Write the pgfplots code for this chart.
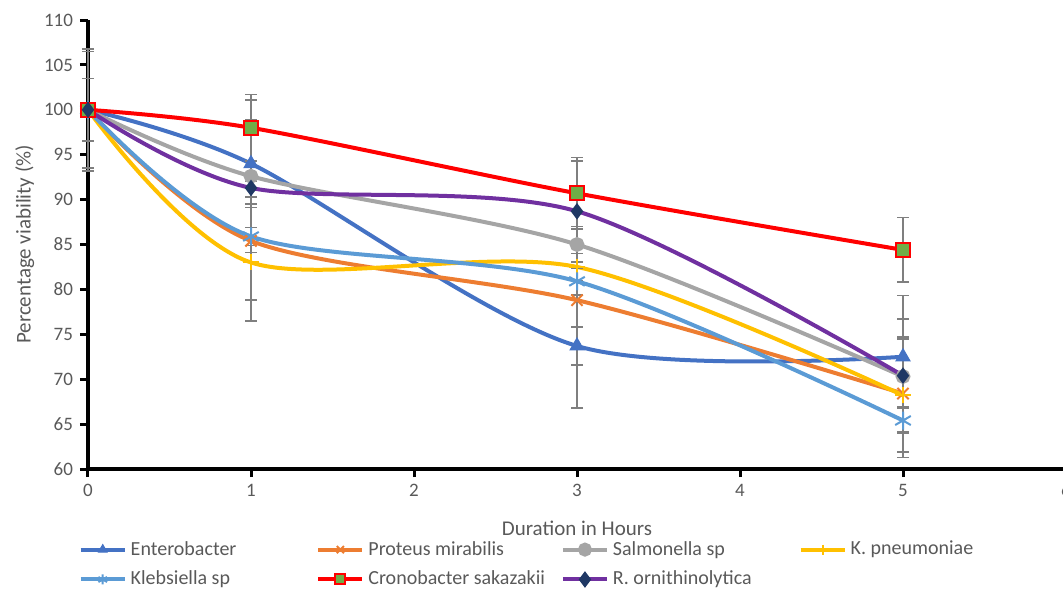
\documentclass[border=0pt]{standalone}
\usepackage{fontspec}
\setmainfont{Carlito}
\usepackage{pgfplots}
\pgfplotsset{compat=1.18}
\definecolor{cEnt}{HTML}{4472C4}
\definecolor{cPro}{HTML}{ED7D31}
\definecolor{cSal}{HTML}{A5A5A5}
\definecolor{cKpn}{HTML}{FFC000}
\definecolor{cKle}{HTML}{5B9BD5}
\definecolor{cCro}{HTML}{FF0000}
\definecolor{cCroM}{HTML}{70AD47}
\definecolor{cRor}{HTML}{7030A0}
\definecolor{cRorM}{HTML}{1F3864}
\definecolor{labgray}{HTML}{595959}
\definecolor{errgray}{HTML}{7F7F7F}
\begin{document}
\begin{tikzpicture}
\begin{axis}[
  scale only axis, width=489pt, height=224.5pt,
  xmin=0, xmax=6, ymin=60, ymax=110,
  axis lines=left,
  axis line style={line width=2pt, -},
  xtick={0,1,2,3,4,5,6}, ytick={60,65,...,110},
  tick style={black, line width=1.5pt},
  tick align=outside, major tick length=4pt,
  ticklabel style={font=\fontsize{9.5}{11}\selectfont, text=labgray},
  /pgf/number format/assume math mode=true,
  xlabel={Duration in Hours},
  ylabel={Percentage viability (\%)},
  label style={font=\fontsize{10.5}{12}\selectfont, text=labgray},
  xlabel style={yshift=-5pt},
  ylabel style={yshift=-2pt},
  clip=false,
  legend columns=4,
  legend cell align=left,
  legend style={draw=none, fill=none, at={(-0.016,-0.142)}, anchor=north west,
    font=\fontsize{10}{11.5}\selectfont, text=labgray,
    row sep=2.5pt,
    /tikz/column 2/.style={column sep=38pt},
    /tikz/column 4/.style={column sep=6pt},
    /tikz/column 6/.style={column sep=21.5pt}},
  legend image code/.code={\draw[mark repeat=2,mark phase=2,sharp plot,mark size=2.5pt] plot coordinates {(0pt,0pt)(11pt,0pt)(22pt,0pt)};},
  every axis plot/.append style={line width=2pt},
  error bars/y dir=both, error bars/y explicit,
  error bars/error bar style={line width=0.8pt, errgray, solid, sharp plot},
  error bars/error mark options={rotate=90, mark size=3pt, line width=0.8pt, errgray},
]
\addplot[cEnt, smooth, mark=triangle*, mark size=4pt, mark options={solid, fill=cEnt, line width=0.5pt}]
  coordinates {(0,100) +- (0,0) (1,94.0) +- (0,4.9) (3,73.7) +- (0,2.1) (5,72.5) +- (0,2.2)};
\addplot[cPro, smooth, mark=x, mark size=4pt, mark options={solid, line width=1pt}]
  coordinates {(0,100) +- (0,3.5) (1,85.4) +- (0,6.6) (3,78.8) +- (0,12) (5,68.4) +- (0,1.5)};
\addplot[cSal, smooth, mark=*, mark size=2.7pt, mark options={solid, fill=cSal}]
  coordinates {(0,100) +- (0,6.8) (1,92.6) +- (0,8.5) (3,85.0) +- (0,2.0) (5,70.3) +- (0,9.0)};
\addplot[cKpn, smooth, mark=+, mark size=4pt, mark options={solid, line width=1pt}]
  coordinates {(0,100) +- (0,0) (1,83.0) +- (0,6.5) (3,82.5) +- (0,1.5) (5,68.2) +- (0,6.3)};
\addplot[cKle, smooth, mark=asterisk, mark size=4.5pt, mark options={solid, line width=1pt}]
  coordinates {(0,100) +- (0,0) (1,85.9) +- (0,1.0) (3,80.9) +- (0,1.5) (5,65.4) +- (0,1.4)};
\addplot[cCro, smooth, mark=square*, mark size=3.5pt, mark options={solid, fill=cCroM, draw=cCro, line width=1pt}]
  coordinates {(0,100) +- (0,0) (1,98.0) +- (0,3.7) (3,90.7) +- (0,4.0) (5,84.4) +- (0,3.6)};
\addplot[cRor, smooth, mark=diamond*, mark size=2.5pt, mark options={solid, fill=cRorM, draw=cRorM}]
  coordinates {(0,100) +- (0,6.5) (1,91.3) +- (0,1.0) (3,88.7) +- (0,5.6) (5,70.4) +- (0,6.3)};
\legend{Enterobacter, Proteus mirabilis, Salmonella sp, K. pneumoniae, Klebsiella sp, Cronobacter sakazakii, R. ornithinolytica}
\end{axis}
\pgfresetboundingbox
\path[use as bounding box] (-44pt,-59.5pt) rectangle (487.5pt,234.5pt);
\end{tikzpicture}
\end{document}
